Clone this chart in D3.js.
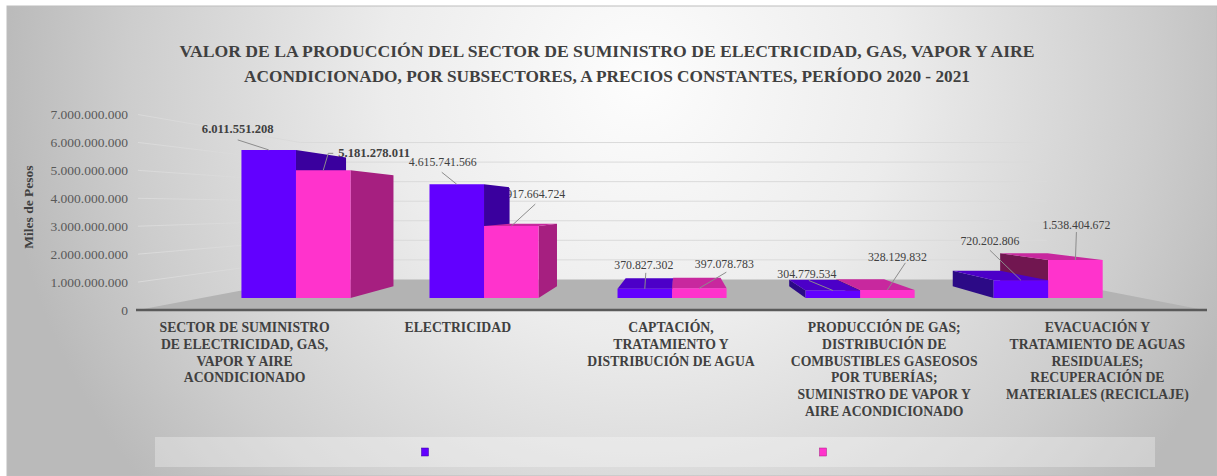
<!DOCTYPE html>
<html>
<head>
<meta charset="utf-8">
<script src="https://cdn.jsdelivr.net/npm/d3@7/dist/d3.min.js"></script>
<style>
    body { margin: 0; background: #fff; }
    svg { display: block; }
    text { font-family: "Liberation Serif", "Times New Roman", serif; }
</style>
</head>
<body>
<div id="chart"></div>
<script>
// ---- data ----
const categories = [
    ['SECTOR DE SUMINISTRO', 'DE ELECTRICIDAD, GAS,', 'VAPOR Y AIRE', 'ACONDICIONADO'],
    ['ELECTRICIDAD'],
    ['CAPTACIÓN,', 'TRATAMIENTO Y', 'DISTRIBUCIÓN DE AGUA'],
    ['PRODUCCIÓN DE GAS;', 'DISTRIBUCIÓN DE', 'COMBUSTIBLES GASEOSOS', 'POR TUBERÍAS;', 'SUMINISTRO DE VAPOR Y', 'AIRE ACONDICIONADO'],
    ['EVACUACIÓN Y', 'TRATAMIENTO DE AGUAS', 'RESIDUALES;', 'RECUPERACIÓN DE', 'MATERIALES (RECICLAJE)']
];
const seriesKeys = ['2020', '2021'];
const values2020 = [6011551208, 4615741566, 370827302, 304779534, 720202806];
const values2021 = [5181278011, 2917664724, 397078783, 328129832, 1538404672];
const yTicks = [0, 1000000000, 2000000000, 3000000000, 4000000000, 5000000000, 6000000000, 7000000000];
const titleLines = [
    'VALOR DE LA PRODUCCIÓN DEL SECTOR DE SUMINISTRO DE ELECTRICIDAD,  GAS, VAPOR Y AIRE',
    'ACONDICIONADO,  POR SUBSECTORES, A PRECIOS CONSTANTES, PERÍODO 2020 - 2021'
];
const yTitle = 'Miles de Pesos';

// ---- layout / style ----
const W = 1217, H = 476;
const VP = [680, 208];            // vanishing point of the 3d view
const Z_BAR0 = 0.118, Z_BAR1 = 0.233, Z_BACK = 0.3;
const colors = {
    '2020': { front: '#6200ff', side: '#3a009e', sideL: '#2c0a86', top: '#4c00c8' },
    '2021': { front: '#ff33cc', side: '#a61f80', sideL: '#711650', top: '#c8289e' }
};
const titleWidths = [855, 726];
// label tweaks: text offset (dx, dy) from bar front-top centre, leader start (lx, ly), optional elbow
const labelNudge = [
    [{ dx: -31, dy: -17, lx: -31, ly: -10, bold: true }, { dx: 15, dy: -13, lx: 10, ly: -17, ex: 5, ey: -17, anchor: 'start', bold: true }],
    [{ dx: -14, dy: -18, lx: -15, ly: -12 }, { dx: 20, dy: -28, lx: 24, ly: -22 }],
    [{ dx: -1, dy: -20, lx: 1, ly: -16 }, { dx: 25, dy: -20, lx: 27, ly: -16 }],
    [{ dx: -26, dy: -12, lx: -24, ly: -10 }, { dx: 10, dy: -29, lx: 18, ly: -27 }],
    [{ dx: -31, dy: -35, lx: -31, ly: -30 }, { dx: 1, dy: -31, lx: 1, ly: -28 }]
];

const fmt = d3.formatLocale({ decimal: ',', thousands: '.', grouping: [3], currency: ['$', ''] }).format(',.0f');

const svg = d3.select('#chart').append('svg')
    .attr('width', W)
    .attr('height', H);

const defs = svg.append('defs');
const bg = defs.append('radialGradient')
    .attr('id', 'bg')
    .attr('gradientUnits', 'userSpaceOnUse')
    .attr('cx', 640).attr('cy', 80).attr('r', 640);
bg.append('stop').attr('offset', 0).attr('stop-color', '#fdfdfd');
bg.append('stop').attr('offset', 0.4).attr('stop-color', '#ececec');
bg.append('stop').attr('offset', 0.8).attr('stop-color', '#cdcdcd');
bg.append('stop').attr('offset', 1).attr('stop-color', '#bababa');

svg.append('rect')
    .attr('x', 7).attr('y', 6)
    .attr('width', W - 7).attr('height', H - 6)
    .attr('fill', 'url(#bg)')
    .attr('stroke', '#bdbdbd');

// ---- scales ----
const x0 = d3.scaleBand().domain(d3.range(categories.length)).range([138, 1204]).paddingInner(0.42).paddingOuter(0.21);
const x1 = d3.scaleBand().domain(seriesKeys).range([0, x0.bandwidth()]);
const y = d3.scaleLinear().domain([0, 7000000000]).range([310, 114.5]);

function proj(X, Y, z) {
    return [X + z * (VP[0] - X), Y + z * (VP[1] - Y)];
}
function poly(pts) {
    return 'M' + pts.map(function (p) { return p[0].toFixed(2) + ',' + p[1].toFixed(2); }).join('L') + 'Z';
}

const xL = x0.range()[0], xR = x0.range()[1];

// ---- floor ----
svg.append('path')
    .attr('d', poly([proj(xL, y(0), 0), proj(xL, y(0), Z_BACK), proj(xR, y(0), Z_BACK), proj(xR, y(0), 0)]))
    .attr('fill', '#b3b3b3');

// ---- gridlines (left wall + back wall) ----
svg.append('g').selectAll('path')
    .data(yTicks.filter(function (d) { return d > 0; }))
    .enter()
    .append('path')
    .attr('d', function (d) {
        const a = proj(xL, y(d), 0), b = proj(xL, y(d), Z_BACK), c = proj(xR, y(d), Z_BACK);
        return 'M' + a + 'L' + b + 'L' + c;
    })
    .attr('fill', 'none')
    .attr('stroke', '#dadada')
    .attr('stroke-width', 1);

// front axis line
svg.append('line')
    .attr('x1', xL - 2).attr('x2', xR + 3)
    .attr('y1', y(0)).attr('y2', y(0))
    .attr('stroke', '#5a5a5a')
    .attr('stroke-width', 2.5);

// y tick labels
svg.append('g').selectAll('text')
    .data(yTicks)
    .enter()
    .append('text')
    .attr('x', xL - 10)
    .attr('y', function (d) { return y(d) + 4.5; })
    .attr('text-anchor', 'end')
    .attr('font-size', 13.5)
    .attr('fill', '#595959')
    .text(function (d) { return fmt(d); });

svg.append('text')
    .attr('transform', 'translate(33,207) rotate(-90)')
    .attr('text-anchor', 'middle')
    .attr('font-size', 13.5)
    .attr('font-weight', 'bold')
    .attr('fill', '#404040')
    .text(yTitle);

// ---- title ----
svg.append('g').selectAll('text')
    .data(titleLines)
    .enter()
    .append('text')
    .attr('x', 607)
    .attr('y', function (d, i) { return 57 + i * 25; })
    .attr('text-anchor', 'middle')
    .attr('font-size', 17)
    .attr('font-weight', 'bold')
    .attr('fill', '#404040')
    .attr('textLength', function (d, i) { return titleWidths[i]; })
    .attr('lengthAdjust', 'spacingAndGlyphs')
    .text(function (d) { return d; });

// ---- category labels ----
const catG = svg.append('g').selectAll('text')
    .data(categories)
    .enter()
    .append('text')
    .attr('x', function (d, i) { return x0(i) + x0.bandwidth() / 2; })
    .attr('y', 332)
    .attr('text-anchor', 'middle')
    .attr('font-size', 13.7)
    .attr('font-weight', 'bold')
    .attr('fill', '#404040');
catG.selectAll('tspan')
    .data(function (d) { return d; })
    .enter()
    .append('tspan')
    .attr('x', function () { return d3.select(this.parentNode).attr('x'); })
    .attr('dy', function (d, i) { return i === 0 ? 0 : 16.8; })
    .text(function (d) { return d; });

// ---- bars ----
const bars = [];
categories.forEach(function (c, i) {
    seriesKeys.forEach(function (s, j) {
        const v = (j === 0 ? values2020 : values2021)[i];
        const X0 = x0(i) + x1(s), X1 = X0 + x1.bandwidth();
        bars.push({ i: i, j: j, s: s, v: v, X0: X0, X1: X1, Yt: y(v), Yb: y(0) });
    });
});

// data label text goes under the bars (as in the original, where it gets clipped)
const labelG = svg.append('g');
bars.forEach(function (b) {
    const nd = labelNudge[b.i][b.j];
    const a = proj((b.X0 + b.X1) / 2, b.Yt, Z_BAR0);
    b.anchor = a;
    labelG.append('text')
        .attr('x', a[0] + nd.dx)
        .attr('y', a[1] + nd.dy)
        .attr('text-anchor', nd.anchor || 'middle')
        .attr('font-size', nd.bold ? 12.6 : 11.8)
        .attr('font-weight', nd.bold ? 'bold' : 'normal')
        .attr('fill', '#404040')
        .text(fmt(b.v));
});

const order = bars.slice().sort(function (a, b) {
    return Math.abs((b.X0 + b.X1) / 2 - VP[0]) - Math.abs((a.X0 + a.X1) / 2 - VP[0]);
});

const barG = svg.append('g');
order.forEach(function (b) {
    const col = colors[b.s];
    const g = barG.append('g');
    if (b.X1 < VP[0]) {
        g.append('path')
            .attr('d', poly([proj(b.X1, b.Yt, Z_BAR0), proj(b.X1, b.Yt, Z_BAR1), proj(b.X1, b.Yb, Z_BAR1), proj(b.X1, b.Yb, Z_BAR0)]))
            .attr('fill', col.side);
    }
    if (b.X0 > VP[0]) {
        g.append('path')
            .attr('d', poly([proj(b.X0, b.Yt, Z_BAR0), proj(b.X0, b.Yt, Z_BAR1), proj(b.X0, b.Yb, Z_BAR1), proj(b.X0, b.Yb, Z_BAR0)]))
            .attr('fill', col.sideL);
    }
    if (proj(b.X0, b.Yt, Z_BAR0)[1] > VP[1]) {
        g.append('path')
            .attr('d', poly([proj(b.X0, b.Yt, Z_BAR0), proj(b.X1, b.Yt, Z_BAR0), proj(b.X1, b.Yt, Z_BAR1), proj(b.X0, b.Yt, Z_BAR1)]))
            .attr('fill', col.top);
    }
    g.append('path')
        .attr('d', poly([proj(b.X0, b.Yt, Z_BAR0), proj(b.X1, b.Yt, Z_BAR0), proj(b.X1, b.Yb, Z_BAR0), proj(b.X0, b.Yb, Z_BAR0)]))
        .attr('fill', col.front);
});

// leader lines on top
bars.forEach(function (b) {
    const nd = labelNudge[b.i][b.j];
    const a = b.anchor;
    let d = 'M' + a[0] + ',' + a[1];
    if (nd.ex !== undefined) d += 'L' + (a[0] + nd.ex) + ',' + (a[1] + nd.ey);
    d += 'L' + (a[0] + nd.lx) + ',' + (a[1] + nd.ly);
    svg.append('path')
        .attr('d', d)
        .attr('fill', 'none')
        .attr('stroke', '#8c8c8c')
        .attr('stroke-width', 1);
});

// ---- legend (series names are blank in the source) ----
svg.append('rect')
    .attr('x', 155).attr('y', 437)
    .attr('width', 1000).attr('height', 30)
    .attr('fill', '#ffffff')
    .attr('fill-opacity', 0.3);

const lx = d3.scaleBand().domain(seriesKeys).range([226, 1022]);
svg.append('g').selectAll('rect')
    .data(seriesKeys)
    .enter()
    .append('rect')
    .attr('x', function (d) { return lx(d) + lx.bandwidth() / 2 - 3.5; })
    .attr('y', 448)
    .attr('width', 7)
    .attr('height', 8)
    .attr('fill', function (d) { return colors[d].front; })
    .attr('stroke', function (d) { return colors[d].side; })
    .attr('stroke-width', 0.5);
</script>
</body>
</html>
